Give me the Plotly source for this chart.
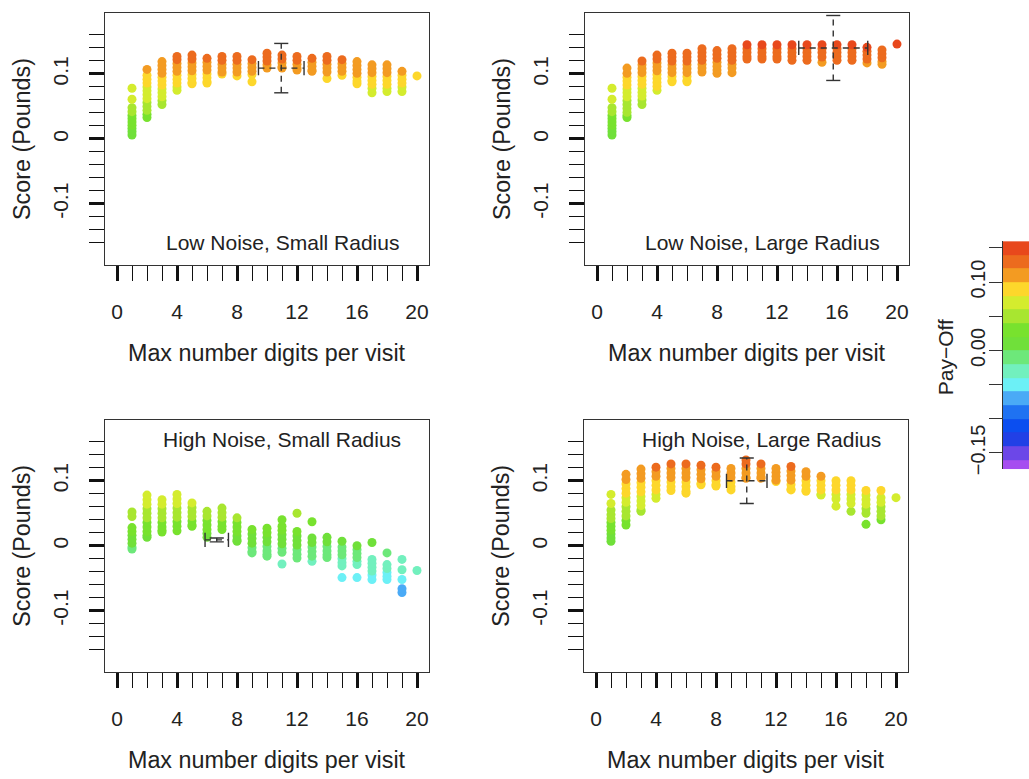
import plotly.graph_objects as go

W, H = 1029, 779

# ---------------- data ----------------
x_digits = list(range(1, 21))

low_small = [
    [0.078, 0.061, 0.048, 0.042, 0.036, 0.031, 0.026, 0.021, 0.016, 0.011, 0.006],
    [0.107, 0.098, 0.092, 0.086, 0.080, 0.074, 0.068, 0.062, 0.056, 0.050, 0.044, 0.038, 0.033],
    [0.119, 0.113, 0.107, 0.101, 0.095, 0.089, 0.083, 0.077, 0.071, 0.065, 0.059, 0.053],
    [0.127, 0.122, 0.116, 0.110, 0.104, 0.098, 0.092, 0.086, 0.080, 0.075],
    [0.129, 0.123, 0.117, 0.111, 0.105, 0.099, 0.093, 0.087, 0.085],
    [0.124, 0.118, 0.112, 0.106, 0.100, 0.094, 0.088, 0.086],
    [0.127, 0.121, 0.115, 0.109, 0.103, 0.100],
    [0.127, 0.121, 0.115, 0.109, 0.103, 0.097],
    [0.122, 0.116, 0.110, 0.104, 0.099, 0.088],
    [0.132, 0.126, 0.120, 0.114, 0.109],
    [0.129, 0.123, 0.117, 0.111, 0.109],
    [0.127, 0.121, 0.115, 0.109, 0.106],
    [0.124, 0.118, 0.112, 0.106, 0.104],
    [0.127, 0.121, 0.115, 0.109, 0.103, 0.093],
    [0.122, 0.116, 0.110, 0.104, 0.098],
    [0.119, 0.113, 0.107, 0.101, 0.095, 0.089, 0.085],
    [0.114, 0.108, 0.102, 0.096, 0.090, 0.084, 0.078, 0.071],
    [0.114, 0.108, 0.102, 0.096, 0.090, 0.084, 0.078, 0.073],
    [0.104, 0.098, 0.092, 0.086, 0.080, 0.073],
    [0.097],
]

low_large = [
    [0.078, 0.061, 0.048, 0.042, 0.036, 0.031, 0.026, 0.021, 0.016, 0.011, 0.006],
    [0.109, 0.101, 0.095, 0.089, 0.083, 0.077, 0.071, 0.065, 0.059, 0.053, 0.047, 0.041, 0.036, 0.033],
    [0.120, 0.114, 0.108, 0.102, 0.096, 0.090, 0.084, 0.078, 0.072, 0.066, 0.060, 0.053],
    [0.129, 0.123, 0.117, 0.111, 0.105, 0.099, 0.093, 0.087, 0.081, 0.075],
    [0.132, 0.126, 0.120, 0.114, 0.108, 0.102, 0.096, 0.090, 0.088],
    [0.132, 0.126, 0.120, 0.114, 0.108, 0.102, 0.096, 0.090, 0.088],
    [0.139, 0.133, 0.127, 0.121, 0.115, 0.109, 0.103],
    [0.136, 0.130, 0.124, 0.118, 0.112, 0.106, 0.101],
    [0.139, 0.133, 0.127, 0.121, 0.115, 0.109, 0.102],
    [0.145, 0.139, 0.133, 0.127, 0.123],
    [0.145, 0.139, 0.133, 0.127, 0.123],
    [0.145, 0.139, 0.133, 0.127, 0.123],
    [0.145, 0.139, 0.133, 0.127, 0.121],
    [0.145, 0.139, 0.133, 0.127, 0.121],
    [0.145, 0.139, 0.133, 0.126, 0.118],
    [0.145, 0.139, 0.133, 0.127, 0.121],
    [0.145, 0.139, 0.133, 0.127, 0.121],
    [0.141, 0.135, 0.129, 0.123, 0.117],
    [0.137, 0.131, 0.125, 0.119, 0.115],
    [0.146],
]

high_small = [
    [0.052, 0.045, 0.028, 0.022, 0.016, 0.010, 0.004, -0.002, -0.005],
    [0.078, 0.071, 0.064, 0.057, 0.050, 0.043, 0.036, 0.029, 0.022, 0.016, 0.013],
    [0.071, 0.064, 0.057, 0.050, 0.043, 0.036, 0.029, 0.024, 0.021],
    [0.079, 0.072, 0.065, 0.058, 0.051, 0.044, 0.037, 0.030, 0.023],
    [0.066, 0.059, 0.052, 0.045, 0.038, 0.032, 0.030],
    [0.053, 0.046, 0.039, 0.032, 0.025, 0.019, 0.013],
    [0.058, 0.051, 0.044, 0.037, 0.030, 0.025],
    [0.043, 0.036, 0.029, 0.022, 0.015, 0.009, 0.007],
    [0.025, 0.018, 0.011, 0.004, -0.003, -0.009, -0.011],
    [0.027, 0.020, 0.013, 0.006, -0.001, -0.008, -0.013, -0.016],
    [0.040, 0.030, 0.024, 0.017, 0.010, 0.003, -0.004, -0.010, -0.028],
    [0.050, 0.022, 0.015, 0.008, 0.001, -0.006, -0.013, -0.019],
    [0.037, 0.012, 0.005, -0.002, -0.009, -0.016, -0.024],
    [0.013, 0.006, -0.001, -0.008, -0.014, -0.018],
    [0.007, -0.002, -0.008, -0.014, -0.020, -0.026, -0.031, -0.049],
    [0.000, -0.006, -0.012, -0.018, -0.024, -0.029, -0.049],
    [0.005, -0.021, -0.027, -0.033, -0.039, -0.045, -0.052],
    [-0.011, -0.029, -0.035, -0.041, -0.047, -0.052],
    [-0.021, -0.037, -0.052, -0.066, -0.072],
    [-0.038],
]

high_large = [
    [0.079, 0.065, 0.055, 0.048, 0.042, 0.036, 0.030, 0.024, 0.018, 0.012, 0.007],
    [0.110, 0.102, 0.095, 0.088, 0.081, 0.074, 0.067, 0.060, 0.053, 0.046, 0.039, 0.032],
    [0.118, 0.111, 0.104, 0.097, 0.090, 0.083, 0.076, 0.069, 0.062, 0.055, 0.053],
    [0.121, 0.114, 0.107, 0.100, 0.093, 0.086, 0.079, 0.073],
    [0.126, 0.119, 0.112, 0.105, 0.098, 0.091, 0.085],
    [0.126, 0.119, 0.112, 0.105, 0.098, 0.091, 0.084, 0.081],
    [0.124, 0.117, 0.110, 0.103, 0.096, 0.094],
    [0.121, 0.114, 0.107, 0.100, 0.094, 0.092],
    [0.119, 0.112, 0.105, 0.098, 0.091, 0.086],
    [0.132, 0.126, 0.119, 0.112, 0.105, 0.104],
    [0.126, 0.119, 0.112, 0.106, 0.104],
    [0.119, 0.113, 0.107, 0.101, 0.099],
    [0.122, 0.115, 0.108, 0.101, 0.094, 0.087, 0.086],
    [0.114, 0.107, 0.100, 0.093, 0.086, 0.084],
    [0.107, 0.100, 0.093, 0.086, 0.079, 0.078],
    [0.100, 0.093, 0.086, 0.079, 0.072, 0.061],
    [0.100, 0.093, 0.086, 0.079, 0.072, 0.065, 0.053],
    [0.085, 0.078, 0.071, 0.064, 0.057, 0.050, 0.033],
    [0.085, 0.074, 0.067, 0.060, 0.053, 0.046, 0.040],
    [0.074],
]

panel_titles = ["Low Noise, Small Radius", "Low Noise, Large Radius",
                "High Noise, Small Radius", "High Noise, Large Radius"]
panel_label_y = [-0.16, -0.16, 0.163, 0.163]
panel_label_x = 11.0

# mean +/- error (dashed cross) per panel
err_cx = [10.95, 15.75, 6.65, 10.05]
err_cy = [0.109, 0.140, 0.009, 0.100]
err_ex = [1.52, 2.30, 0.78, 1.35]
err_ey = [0.038, 0.050, 0.003, 0.035]

# axis ticks
x_major_ticks = [0, 4, 8, 12, 16, 20]
x_minor_ticks = list(range(0, 21))
y_major_ticks = [-0.1, 0, 0.1]
y_major_text = ["-0.1", "0", "0.1"]
y_minor_ticks = [-0.16, -0.14, -0.12, -0.1, -0.08, -0.06, -0.04, -0.02, 0,
                 0.02, 0.04, 0.06, 0.08, 0.1, 0.12, 0.14, 0.16]

# pay-off colour key (bottom to top)
pay_breaks = [-0.174, -0.16, -0.14, -0.12, -0.10, -0.08, -0.06, -0.04, -0.02,
              0.00, 0.02, 0.04, 0.06, 0.08, 0.10, 0.12, 0.14, 0.16]
pay_colors = ["#A64EF0", "#6C47E8", "#2140E6", "#0B4EF0", "#1F72F2", "#4AAAF6",
              "#6CF0F6", "#72F0BE", "#6DE87A", "#70E03A", "#78E22E", "#A8E630",
              "#D4EC2E", "#FDD72B", "#F39B22", "#EC6B1E", "#E8481C"]
cbar_ticks = [-0.15, -0.10, -0.05, 0.00, 0.05, 0.10, 0.15]
cbar_ticktext = ["\u22120.15", "", "", "0.00", "", "0.10", ""]

# ---------------- layout geometry (pixels) ----------------
panels_px = [  # left, right, top, bottom
    (105, 429, 13, 267),
    (585, 909, 13, 267),
    (105, 429, 423, 677),
    (584, 908, 423, 677),
]
FONT = "Liberation Sans, Arial, Helvetica, sans-serif"
INK = "#222222"

def px_x(p):
    return p / W

def px_y(p):
    return 1 - p / H

lo, hi = pay_breaks[0], pay_breaks[-1]
colorscale = []
for i, c in enumerate(pay_colors):
    a = (pay_breaks[i] - lo) / (hi - lo)
    b = (pay_breaks[i + 1] - lo) / (hi - lo)
    colorscale.append([max(0.0, a), c])
    colorscale.append([min(1.0, b), c])
colorscale[0][0] = 0.0
colorscale[-1][0] = 1.0

fig = go.Figure()

datasets = [low_small, low_large, high_small, high_large]
cap_y = 0.011
cap_x = 0.47
for k, data in enumerate(datasets):
    xs, ys = [], []
    for xv, col in zip(x_digits, data):
        for yv in sorted(col):
            xs.append(xv)
            ys.append(yv)
    ax = "" if k == 0 else str(k + 1)
    fig.add_trace(go.Scatter(
        x=xs, y=ys, mode="markers", xaxis="x" + ax, yaxis="y" + ax,
        marker=dict(size=9, color=ys, coloraxis="coloraxis", line=dict(width=0)),
        hoverinfo="x+y",
    ))
    cx, cy, ex, ey = err_cx[k], err_cy[k], err_ex[k], err_ey[k]
    # dashed cross
    fig.add_trace(go.Scatter(
        x=[cx - ex, cx + ex, None, cx, cx],
        y=[cy, cy, None, cy - ey, cy + ey],
        mode="lines", xaxis="x" + ax, yaxis="y" + ax,
        line=dict(color="#333333", width=1.4, dash="6px,5px"), hoverinfo="skip",
    ))
    # caps
    fig.add_trace(go.Scatter(
        x=[cx - ex, cx - ex, None, cx + ex, cx + ex, None,
           cx - cap_x, cx + cap_x, None, cx - cap_x, cx + cap_x],
        y=[cy - cap_y, cy + cap_y, None, cy - cap_y, cy + cap_y, None,
           cy + ey, cy + ey, None, cy - ey, cy - ey],
        mode="lines", xaxis="x" + ax, yaxis="y" + ax,
        line=dict(color="#333333", width=1.4), hoverinfo="skip",
    ))

# colour key as a heatmap
mids = [(pay_breaks[i] + pay_breaks[i + 1]) / 2 for i in range(len(pay_colors))]
fig.add_trace(go.Heatmap(
    x=[0, 1], y=pay_breaks, z=[[m] for m in mids],
    coloraxis="coloraxis", xaxis="x5", yaxis="y5", hoverinfo="skip",
))

layout = dict(
    width=W, height=H, margin=dict(l=0, r=0, t=0, b=0),
    paper_bgcolor="white", plot_bgcolor="white", showlegend=False,
    font=dict(family=FONT, color=INK, size=21),
    coloraxis=dict(colorscale=colorscale, cmin=lo, cmax=hi, showscale=False),
)

annotations = []
for k, (l, r, t, b) in enumerate(panels_px):
    sfx = "" if k == 0 else str(k + 1)
    layout["xaxis" + sfx] = dict(
        domain=[px_x(l), px_x(r)], anchor="y" + sfx, range=[-0.8, 20.8],
        showgrid=False, zeroline=False, showline=True, mirror=True,
        linecolor="#333333", linewidth=1.3,
        ticks="outside", ticklen=15, tickwidth=2.6, tickcolor="#111111",
        tickmode="array", tickvals=x_major_ticks,
        minor=dict(tickmode="array", tickvals=x_minor_ticks, ticks="outside",
                   ticklen=15, tickwidth=1.1, tickcolor="#111111", showgrid=False),
        tickfont=dict(size=21, color=INK, family=FONT), ticklabelstandoff=13,
    )
    layout["yaxis" + sfx] = dict(
        domain=[px_y(b), px_y(t)], anchor="x" + sfx, range=[-0.194, 0.194],
        showgrid=False, zeroline=False, showline=True, mirror=True,
        linecolor="#333333", linewidth=1.3,
        ticks="outside", ticklen=15, tickwidth=2.6, tickcolor="#111111",
        tickmode="array", tickvals=y_major_ticks, ticktext=y_major_text,
        tickangle=-90,
        minor=dict(tickmode="array", tickvals=y_minor_ticks, ticks="outside",
                   ticklen=15, tickwidth=1.1, tickcolor="#111111", showgrid=False),
        tickfont=dict(size=21, color=INK, family=FONT), ticklabelstandoff=12,
    )
    # axis titles
    annotations.append(dict(
        text="Max number digits per visit", xref="paper", yref="paper",
        x=px_x((l + r) / 2), y=px_y(b + 89), xanchor="center", yanchor="middle",
        showarrow=False, font=dict(size=23.3, color=INK, family=FONT),
    ))
    annotations.append(dict(
        text="Score (Pounds)", xref="paper", yref="paper", textangle=-90,
        x=px_x(l - 83), y=px_y((t + b) / 2), xanchor="center", yanchor="middle",
        showarrow=False, font=dict(size=23.3, color=INK, family=FONT),
    ))
    annotations.append(dict(
        text=panel_titles[k], xref="x" + sfx, yref="y" + sfx,
        x=panel_label_x, y=panel_label_y[k], xanchor="center", yanchor="middle",
        showarrow=False, font=dict(size=21, color=INK, family=FONT),
    ))

layout["xaxis5"] = dict(domain=[px_x(1003), 1.0], anchor="y5", range=[0, 1],
                        visible=False, fixedrange=True)
layout["yaxis5"] = dict(
    domain=[px_y(473), px_y(243)], anchor="x5", range=[lo, hi], side="left",
    showgrid=False, zeroline=False, showline=True, linecolor="#333333", linewidth=1,
    ticks="outside", ticklen=13, tickwidth=1, tickcolor="#333333",
    tickmode="array", tickvals=cbar_ticks, ticktext=cbar_ticktext, tickangle=-90,
    tickfont=dict(size=20, color=INK, family=FONT), ticklabelstandoff=-4,
)
annotations.append(dict(
    text="Pay\u2212Off", xref="paper", yref="paper", textangle=-90,
    x=px_x(945), y=px_y(360), xanchor="center", yanchor="middle",
    showarrow=False, font=dict(size=21, color=INK, family=FONT),
))
layout["annotations"] = annotations

fig.update_layout(**layout)
fig.write_html("out.html")
